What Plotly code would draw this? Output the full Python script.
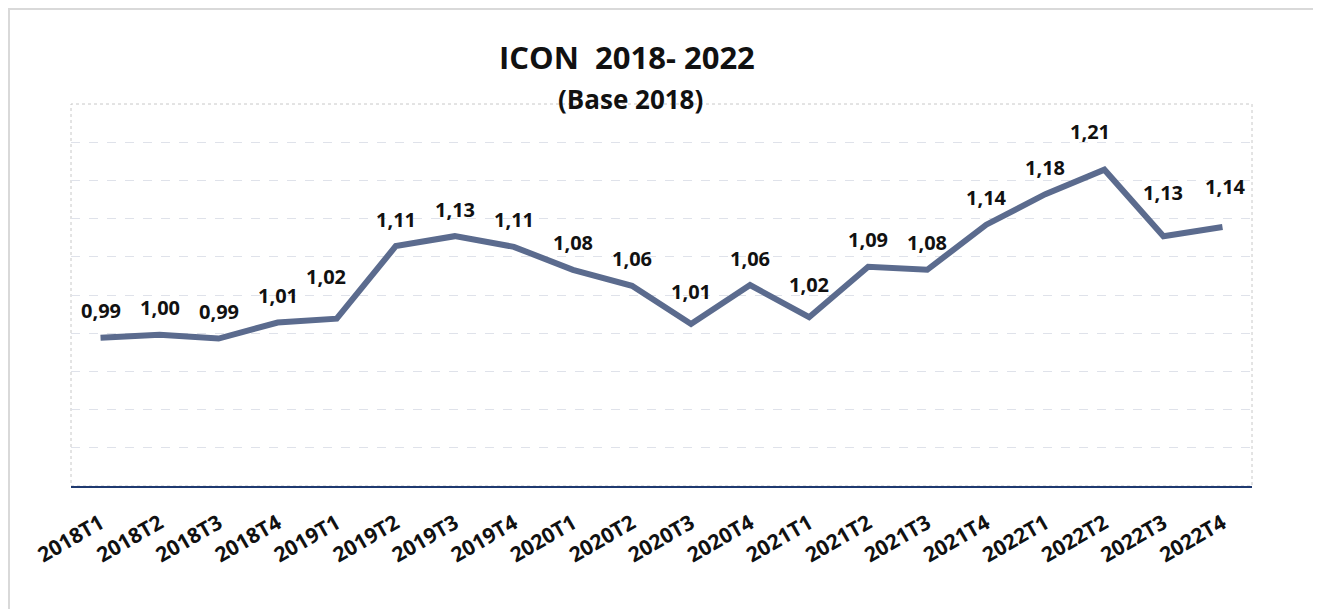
import plotly.graph_objects as go

# ---- data ----
quarters = ["2018T1", "2018T2", "2018T3", "2018T4",
            "2019T1", "2019T2", "2019T3", "2019T4",
            "2020T1", "2020T2", "2020T3", "2020T4",
            "2021T1", "2021T2", "2021T3", "2021T4",
            "2022T1", "2022T2", "2022T3", "2022T4"]
icon_values = [0.994, 0.998, 0.993, 1.014,
               1.019, 1.114, 1.127, 1.113,
               1.083, 1.062, 1.012, 1.063,
               1.021, 1.087, 1.083, 1.142,
               1.182, 1.214, 1.127, 1.139]
title_text = "ICON\u00a0\u00a02018- 2022"
subtitle_text = "(Base 2018)"

# ---- style ----
OFF = 8  # page body margin
W, H = 1321 - OFF, 609 - OFF
PL, PR, PT, PB = 71, 1252, 104, 486   # plot area in page pixels
ML, MT = PL - OFF, PT - OFF
MR = W - (PR - OFF)
MB = H - (PB - OFF)
PW = PR - PL
PH = PB - PT
FONT = "Open Sans"
LINE_COLOR = "#5b6b8e"
AXIS_COLOR = "#1f3a70"
GRID_COLOR = "#dfe2ea"
# label offsets in pixels (dx, dy) — placement style only
label_dy_default = 27
label_offsets = {4: (-11, 42), 10: (0, 33), 12: (0, 33),
                 17: (-14, 38), 18: (0, 44), 19: (3, 41)}

fig = go.Figure()
fig.add_trace(go.Scatter(
    x=quarters, y=icon_values, mode="lines",
    line=dict(color=LINE_COLOR, width=6),
    hoverinfo="x+y", showlegend=False,
))

annotations = []
for i, (q, v) in enumerate(zip(quarters, icon_values)):
    dx, dy = label_offsets.get(i, (0, label_dy_default))
    annotations.append(dict(
        x=q, y=v, xref="x", yref="y",
        text=f"{v:.2f}".replace(".", ","),
        showarrow=False, xshift=dx, yshift=dy,
        xanchor="center", yanchor="middle",
        font=dict(family=FONT, size=20, color="#111111", weight="bold"),
    ))

def py(pix_y):
    return (PB - pix_y) / PH

def px(pix_x):
    return (pix_x - PL) / PW

annotations.append(dict(
    x=px(627), y=py(57), xref="paper", yref="paper",
    text=title_text, showarrow=False, xanchor="center", yanchor="middle",
    font=dict(family=FONT, size=31, color="#111111", weight="bold"),
))
annotations.append(dict(
    x=px(630), y=py(99), xref="paper", yref="paper",
    text=subtitle_text, showarrow=False, xanchor="center", yanchor="middle",
    font=dict(family=FONT, size=26, color="#111111", weight="bold"),
))

shapes = [
    # outer chart border
    dict(type="rect", xref="paper", yref="paper",
         x0=px(9), x1=px(1317), y0=py(640), y1=py(9),
         line=dict(color="#d9d9d9", width=2), layer="below"),
    # plot area dotted border
    dict(type="rect", xref="paper", yref="paper",
         x0=0, x1=1, y0=0, y1=1,
         line=dict(color="#c8c8c8", width=1, dash="dot"), layer="below"),
]

fig.update_layout(
    width=W, height=H, autosize=False,
    margin=dict(l=ML, r=MR, t=MT, b=MB),
    paper_bgcolor="white", plot_bgcolor="white",
    annotations=annotations, shapes=shapes,
    separators=",.",
    xaxis=dict(
        type="category", range=[-0.5, len(quarters) - 0.5],
        showline=True, linecolor=AXIS_COLOR, linewidth=2,
        showgrid=False, zeroline=False, ticks="",
        tickangle=-30, ticklabelstandoff=15,
        tickfont=dict(family=FONT, size=21, color="#111111", weight="bold"),
    ),
    yaxis=dict(
        range=[0.8, 1.3], dtick=0.05, tick0=0.8,
        showticklabels=False, ticks="", zeroline=False, showline=False,
        showgrid=True, gridcolor=GRID_COLOR, gridwidth=1, griddash="dash",
    ),
)

fig.write_html("out.html")
